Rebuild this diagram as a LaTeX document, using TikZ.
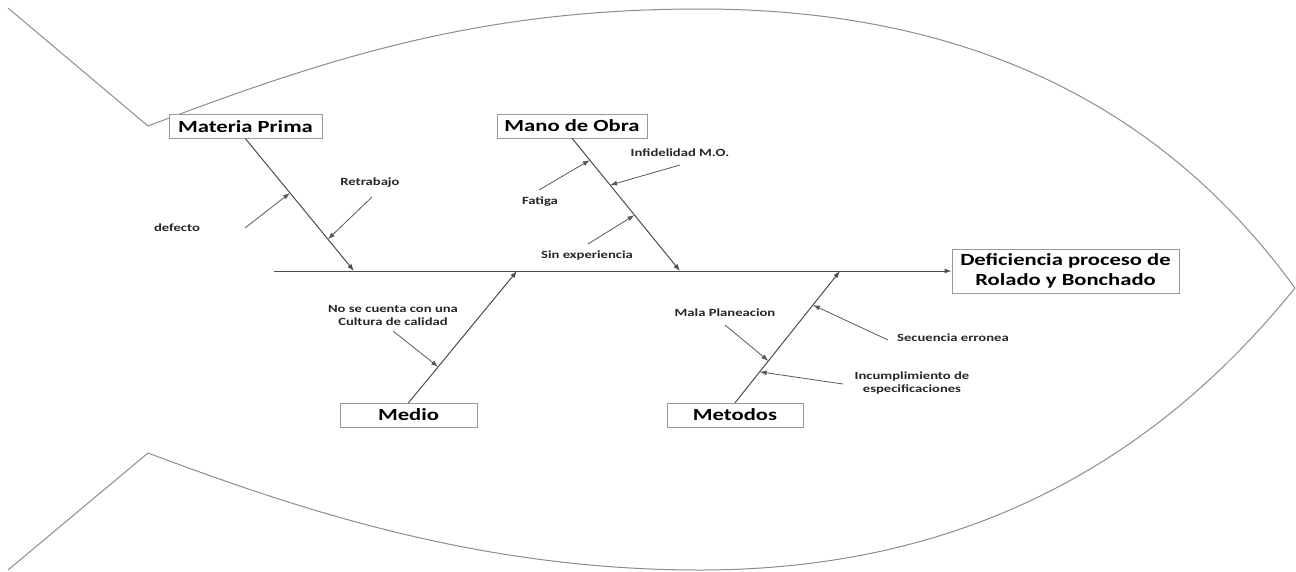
\documentclass[tikz,border=0pt]{standalone}
\usepackage{fontspec}
\setmainfont{Carlito}
\usetikzlibrary{arrows.meta}

\begin{document}
\begin{tikzpicture}[x=1pt,y=-1pt,
	outline/.style={draw=black!45,line width=1pt},
	bone/.style={draw=black!70,line width=1pt,-{Latex[length=7pt,width=5pt]}},
	subarrow/.style={draw=black!65,line width=0.8pt,-{Latex[length=7pt,width=5pt]}},
	causebox/.style={draw=black!40,fill=white,inner sep=0pt,xscale=1.33,minimum height=24pt,
		font=\fontsize{17}{19.5}\selectfont\bfseries},
	note/.style={xscale=1.33,align=center,inner sep=1pt,text=black!85,
		font=\fontsize{11}{13}\selectfont\bfseries}]
	\useasboundingbox (0,0) rectangle (1296,571);
	% fish
	\draw[outline] (8,8) -- (148,126) .. controls (330,57) and (480,9) .. (700,9)
		.. controls (1000,9) and (1180,130) .. (1295,288);
	\draw[outline] (8,570) -- (148,453) .. controls (300,510) and (480,570) .. (700,570)
		.. controls (1000,570) and (1180,430) .. (1295,288);
	% head and causes
	\node[causebox,minimum width=171pt,minimum height=44pt,align=center] (efecto) at (1065.5,271)
		{Deficiencia proceso de\\Rolado y Bonchado};
	\node[causebox,minimum width=115pt] (materia) at (245.5,126.5) {Materia Prima};
	\node[causebox,minimum width=113pt] (mano) at (572,126) {Mano de Obra};
	\node[causebox,minimum width=103pt] (medio) at (408.5,415) {Medio};
	\node[causebox,minimum width=102pt] (metodos) at (735,415) {Metodos};
	% spine
	\coordinate (cola) at (274,271);
	\draw[bone] (cola) -- (efecto.west);
	% bones
	\coordinate (materiatip) at (354,271);
	\coordinate (manotip) at (680,271);
	\coordinate (mediotip) at (517,271);
	\coordinate (metodostip) at (840,271);
	\draw[bone] (materia.south) -- (materiatip);
	\draw[bone] (mano.south) -- (manotip);
	\draw[bone] (medio.north) -- (mediotip);
	\draw[bone] (metodos.north) -- (metodostip);
	\path (materia.south) -- (materiatip) coordinate[pos=0.41] (materia1) coordinate[pos=0.76] (materia2);
	\path (mano.south) -- (manotip) coordinate[pos=0.165] (mano1) coordinate[pos=0.353] (mano2)
		coordinate[pos=0.579] (mano3);
	\path (medio.north) -- (mediotip) coordinate[pos=0.273] (medio1);
	\path (metodos.north) -- (metodostip) coordinate[pos=0.318] (metodos1) coordinate[pos=0.742] (metodos2)
		coordinate[pos=0.235] (metodos3);
	% sub causes
	\node[note] (defecto) at (177,228) {defecto};
	\node[note] (retrabajo) at (370,183) {Retrabajo};
	\node[note] (fatiga) at (540,202) {Fatiga};
	\node[note] (infidelidad) at (680,153) {Infidelidad M.O.};
	\node[note] (sinexp) at (587,255) {Sin experiencia};
	\node[note] (cultura) at (393,315) {No se cuenta con una\\Cultura de calidad};
	\node[note] (planeacion) at (725,313) {Mala Planeacion};
	\node[note] (secuencia) at (953,338) {Secuencia erronea};
	\node[note] (incumplimiento) at (912,383) {Incumplimiento de\\especificaciones};
	\coordinate (defectocola) at (245,228);
	\coordinate (retrabajocola) at (372,197);
	\coordinate (fatigacola) at (539,190);
	\coordinate (infidelidadcola) at (680,165);
	\coordinate (sinexpcola) at (588,244);
	\coordinate (culturacola) at (393,331);
	\coordinate (planeacioncola) at (725,325);
	\coordinate (secuenciacola) at (888,340);
	\coordinate (incumplimientocola) at (843,384);
	\draw[subarrow] (defectocola) -- (materia1);
	\draw[subarrow] (retrabajocola) -- (materia2);
	\draw[subarrow] (fatigacola) -- (mano1);
	\draw[subarrow] (infidelidadcola) -- (mano2);
	\draw[subarrow] (sinexpcola) -- (mano3);
	\draw[subarrow] (culturacola) -- (medio1);
	\draw[subarrow] (planeacioncola) -- (metodos1);
	\draw[subarrow] (secuenciacola) -- (metodos2);
	\draw[subarrow] (incumplimientocola) -- (metodos3);
\end{tikzpicture}
\end{document}
